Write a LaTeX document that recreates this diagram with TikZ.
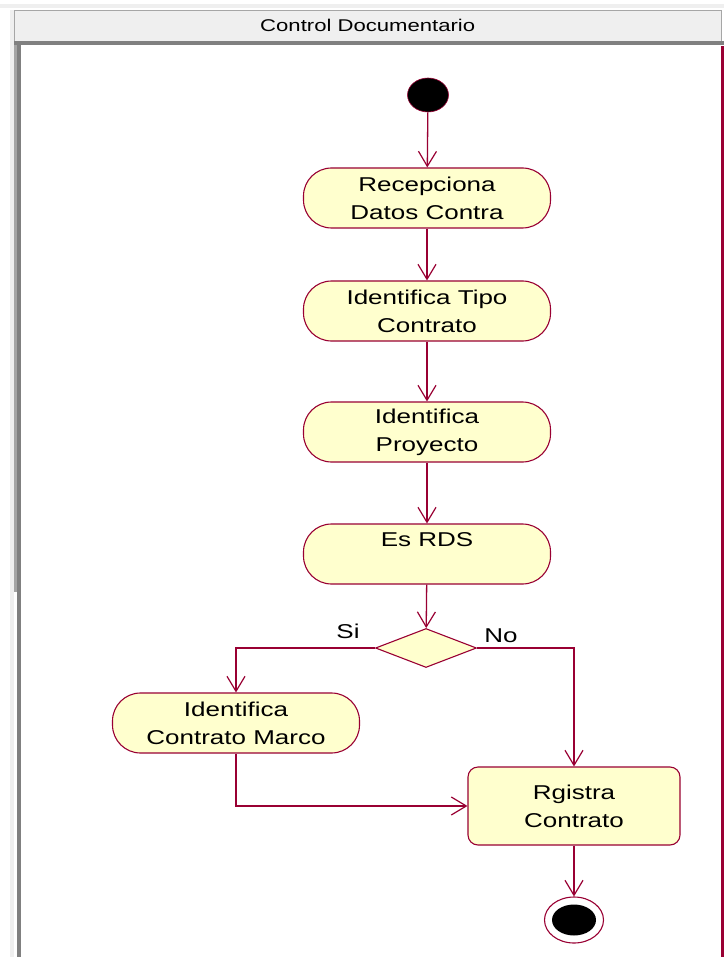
\documentclass[tikz,border=0pt]{standalone}
\usepackage{fontspec}
\setmainfont{Liberation Sans}[FakeStretch=1.3]
\usetikzlibrary{arrows.meta,shapes.geometric}

\definecolor{flow}{RGB}{153,0,51}
\definecolor{actfill}{RGB}{255,255,206}
\definecolor{panel}{RGB}{239,239,239}
\definecolor{edgegray}{RGB}{128,128,128}
\definecolor{midgray}{RGB}{165,165,165}

\tikzset{
  act/.style={draw=flow, fill=actfill, line width=1.1pt, rounded corners=28pt,
    minimum width=247pt, minimum height=60pt, align=center,
    font=\fontsize{20}{28}\selectfont, inner sep=0pt},
  task/.style={draw=flow, fill=actfill, line width=1.1pt, rounded corners=10pt,
    minimum width=212pt, minimum height=78pt, align=center,
    font=\fontsize{20}{28}\selectfont, inner sep=0pt},
  decision/.style={draw=flow, fill=actfill, line width=1.1pt},
  flowline/.style={draw=flow, line width=1.3pt,
    -{Straight Barb[length=15pt,width=18pt,line width=1.2pt]}},
  guard/.style={font=\fontsize{20}{24}\selectfont, inner sep=0pt},
}

\begin{document}
\begin{tikzpicture}[x=1pt,y=-1pt]
  \useasboundingbox (0,0) rectangle (724,957);
  \fill[white] (0,0) rectangle (724,957);

  % swimlane frame
  \fill[panel] (0,4) rectangle (724,8);
  \fill[panel] (10,10) rectangle (14,957);
  \fill[midgray] (14,42) rectangle (17,592);
  \fill[edgegray] (17,42) rectangle (21,957);
  \node[draw=gray!70, fill=panel, minimum width=707pt, minimum height=31pt,
        anchor=north west, inner sep=0pt, font=\fontsize{17}{20}\selectfont]
        (lane) at (14,10) {Control Documentario};
  \fill[edgegray] (14,41) rectangle (724,45);
  \fill[flow] (721,46) rectangle (724,957);

  % start state
  \node[ellipse, fill=black, draw=flow, line width=0.6pt,
        minimum width=41pt, minimum height=34pt, inner sep=0pt] (start) at (428,95) {};

  % activities
  \node[act] (recep) at (427,198) {Recepciona\\Datos Contra};
  \node[act] (tipo)  at (427,311) {Identifica Tipo\\Contrato};
  \node[act] (proy)  at (427,432) {Identifica\\Proyecto};
  \node[act] (rds)   at (427,554) {Es RDS\\\mbox{}};
  \node[decision, shape=diamond, minimum width=101pt, minimum height=39pt,
        inner sep=0pt] (dec) at (426,648) {};
  \node[act] (marco) at (236,723) {Identifica\\Contrato Marco};
  \node[task] (reg)  at (574,806) {Rgistra\\Contrato};

  % end state
  \node[ellipse, draw=flow, fill=white, line width=1.1pt,
        minimum width=59pt, minimum height=46pt, inner sep=0pt] (stop) at (574,920) {};
  \node[ellipse, fill=black, minimum width=44pt, minimum height=31pt,
        inner sep=0pt] (stopdot) at (stop.center) {};

  % transitions
  \draw[flowline] (start) -- (recep);
  \draw[flowline] (recep) -- (tipo);
  \draw[flowline] (tipo) -- (proy);
  \draw[flowline] (proy) -- (rds);
  \draw[flowline] (rds) -- (dec);
  \draw[flowline] (dec.west) -| (marco.north);
  \draw[flowline] (dec.east) -| (reg.north);
  \draw[flowline] (marco.south) |- (reg.west);
  \draw[flowline] (reg) -- (stop);

  % guards
  \node[guard] (si) at (348,631) {Si};
  \node[guard] (no) at (501,636) {No};
\end{tikzpicture}
\end{document}
